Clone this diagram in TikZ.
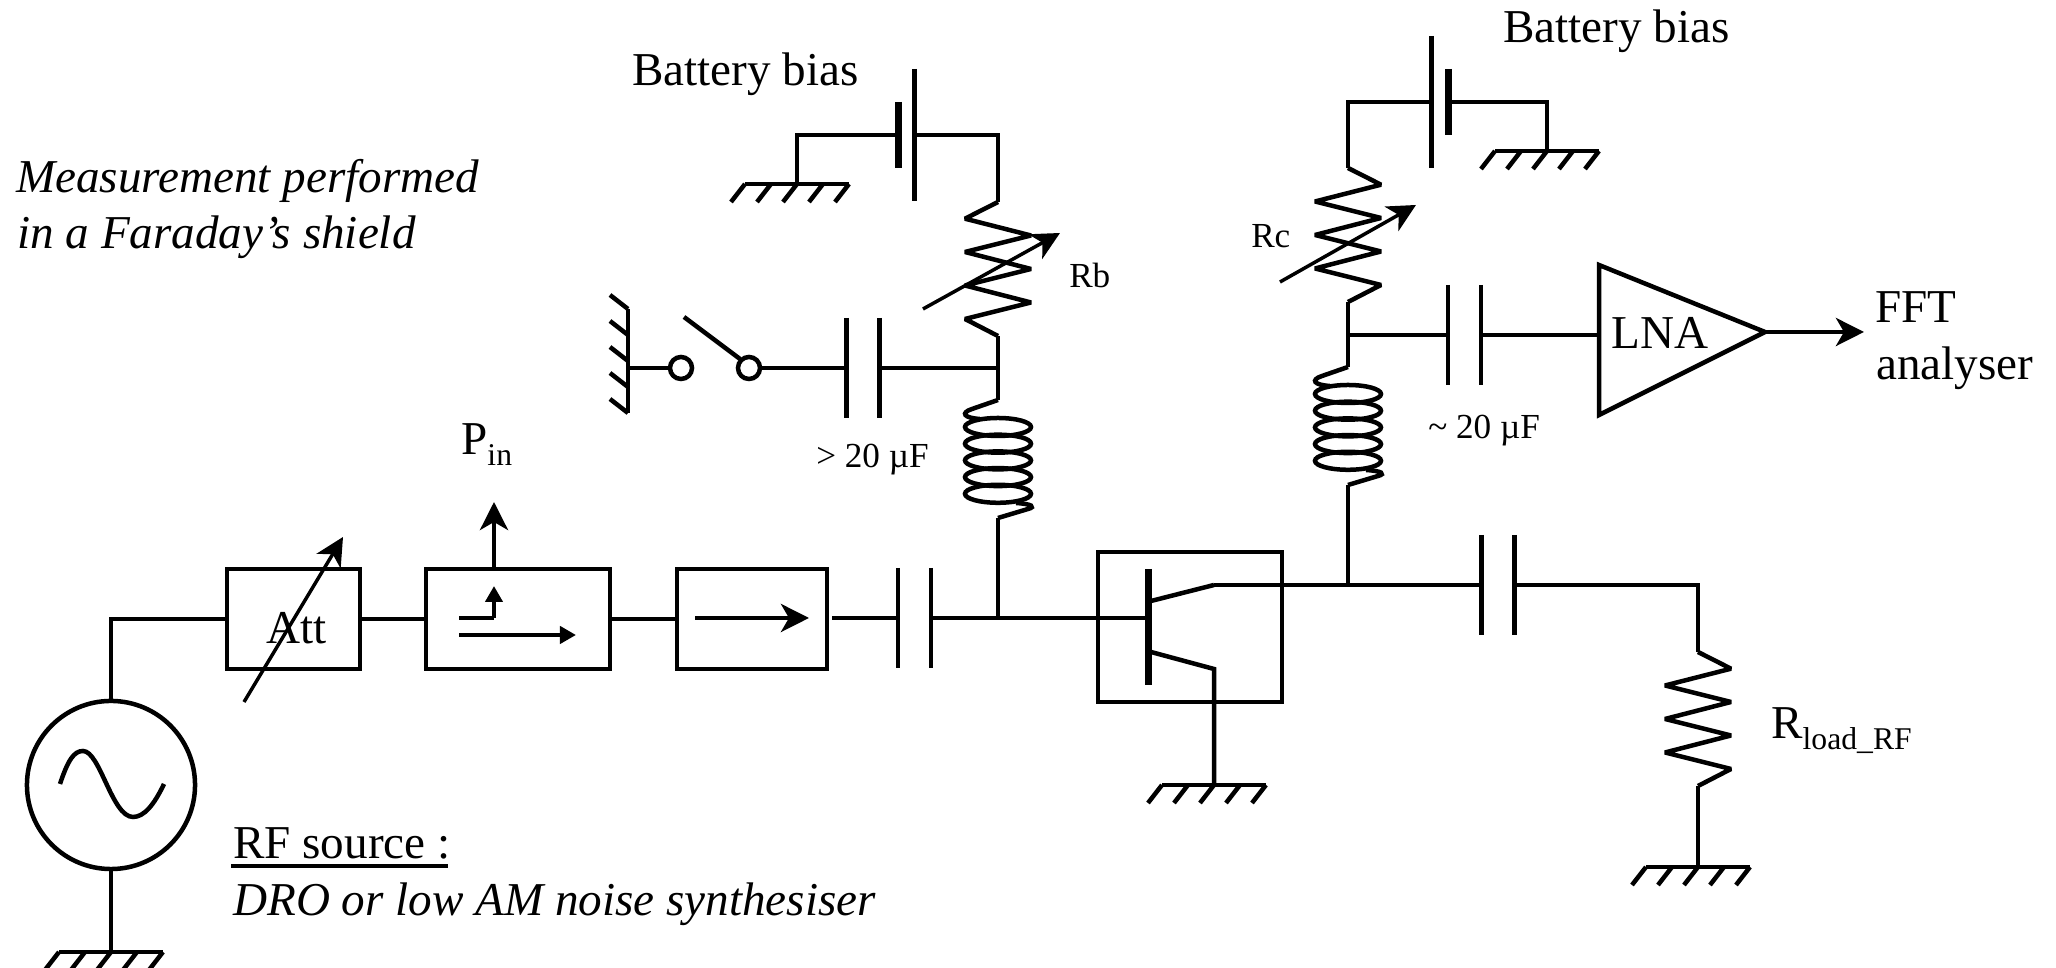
\documentclass[tikz,border=0pt]{standalone}
\usepackage{fontspec}
\setmainfont{Liberation Serif}
\usetikzlibrary{arrows.meta}

\newcommand{\lowtxt}[1]{\raisebox{-0.11cm}{\fontsize{9}{10}\selectfont #1}}

\tikzset{
    bigarrow/.style={-{Stealth[length=0.28cm,width=0.28cm,inset=0.08cm]}},
    tinyarrow/.style={-{Triangle[length=0.16cm,width=0.17cm]}},
    thickbar/.style={line width=0.07cm},
    boxnode/.style={draw,rectangle,inner sep=0,outer sep=0},
    pics/ground/.style={code={
        \coordinate (-pin) at (0,0);
        \draw (-52,0) -- (52,0);
        \foreach \i in {0,...,4}
            \draw (-52+26*\i,0) -- (-66+26*\i,18);
    }},
    pics/resistor/.style={code={
        \coordinate (-top) at (0,0);
        \coordinate (-bot) at (0,134);
        \draw[line join=bevel] (0,0) -- (33,16.7) -- (-33,33.5) -- (33,50) -- (-33,67)
            -- (33,83.5) -- (-33,100.5) -- (33,117) -- (0,134);
    }},
    pics/inductor/.style={code={
        \coordinate (-top) at (0,0);
        \coordinate (-bot) at (0,118);
        \draw (0,0) -- (-26,9) .. controls (-38,13) and (-34,18) .. (-18,19);
        \foreach \i in {0,...,4}
            \draw (0,27+16.7*\i) ellipse [x radius=33, y radius=9];
        \draw (18,103) .. controls (34,104) and (38,107) .. (30,109) -- (0,118);
    }},
    pics/capacitor/.style={code={
        \coordinate (-l) at (-16.5,0);
        \coordinate (-r) at (16.5,0);
        \draw (-16.5,-50) -- (-16.5,50);
        \draw (16.5,-50) -- (16.5,50);
    }},
    pics/battery/.style={code={
        \coordinate (-l) at (-9,0);
        \coordinate (-r) at (8,0);
        \draw[thickbar] (-8.5,-33) -- (-8.5,33);
        \draw (8,-66) -- (8,66);
    }}
}

\begin{document}
\begin{tikzpicture}[x=0.01cm,y=-0.01cm,line width=0.045cm]

    \useasboundingbox (0,0) rectangle (2056,968);

    \begin{scope}[every node/.style={inner sep=0,anchor=base west,font=\fontsize{13.4}{16}\selectfont}]
        \node (shield1) at (14,193) {\itshape Measurement performed};
        \node (shield2) at (15,249) {\itshape in a Faraday's shield};
        \node (bias1) at (630,86) {Battery bias};
        \node (bias2) at (1501,43) {Battery bias};
        \node (pin) at (459,455) {P\lowtxt{in}};
        \node (attlabel) at (264,644) {Att};
        \node (rfsource) at (231,859) {RF source :};
        \node (dro) at (231,916) {\itshape DRO or low AM noise synthesiser};
        \node (lnalabel) at (1609,349) {LNA};
        \node (fft1) at (1873,323) {FFT};
        \node (fft2) at (1874,380) {analyser};
        \node (rload) at (1769,739) {R\lowtxt{load\_RF}};
    \end{scope}

    \begin{scope}[every node/.style={inner sep=0,anchor=base west,font=\fontsize{10}{12}\selectfont}]
        \node (rb) at (1067,288) {Rb};
        \node (rc) at (1249,248) {Rc};
        \node (cbig) at (814,468) {> 20 µF};
        \node (csmall) at (1426,439) {\textasciitilde{} 20 µF};
    \end{scope}

    % blocks
    \node[boxnode,minimum width=1.33cm,minimum height=1.00cm] (att) at (293.5,619) {};
    \node[boxnode,minimum width=1.84cm,minimum height=1.00cm] (coupler) at (518,619) {};
    \node[boxnode,minimum width=1.50cm,minimum height=1.00cm] (iso) at (752,619) {};
    \node[boxnode,minimum width=1.84cm,minimum height=1.50cm] (trans) at (1190,627) {};
    \node[draw,circle,inner sep=0,outer sep=0,minimum size=1.68cm] (src) at (111,785) {};

    % small parts
    \pic (gndsrc) at (111,952) {ground};
    \pic (gndtrans) at (1214,785) {ground};
    \pic (gndload) at (1698,867) {ground};
    \pic (gndb) at (797,184) {ground};
    \pic (gndc) at (1547,151) {ground};
    \pic[rotate=-90] (gndsw) at (628,361) {ground};
    \pic (c1) at (914.5,618) {capacitor};
    \pic (c2) at (863,368) {capacitor};
    \pic (c3) at (1464.5,335) {capacitor};
    \pic (c4) at (1498,585) {capacitor};
    \pic (batb) at (906.5,135) {battery};
    \pic[xscale=-1] (batc) at (1439.5,102) {battery};
    \pic[xscale=-1] (resb) at (998,202) {resistor};
    \pic (resc) at (1348,168) {resistor};
    \pic (resload) at (1698,652) {resistor};
    \pic (indb) at (998,400) {inductor};
    \pic (indc) at (1348,367) {inductor};

    \coordinate (nodeb) at (998,618);
    \coordinate (basepin) at (1145,618);
    \coordinate (colA) at (1151,601);
    \coordinate (colB) at (1214,585);
    \coordinate (emA) at (1151,652);
    \coordinate (emB) at (1214,669);
    \coordinate (nodec) at (1348,585);
    \coordinate (lnaA) at (1599,265);
    \coordinate (lnaB) at (1599,415);
    \coordinate (lnaC) at (1765,332);
    \coordinate (fftend) at (1864,332);
    \coordinate (isoout) at (832,618);

    % main line
    \draw (src.north) |- (att.west);
    \draw (src.south) -- (gndsrc-pin);
    \draw (att.east) -- (coupler.west);
    \draw (coupler.east) -- (iso.west);
    \draw (isoout) -- (c1-l);
    \draw (c1-r) -- (basepin);
    \draw (nodeb) -- (indb-bot);
    \draw (indb-top) -- (resb-bot);
    \draw (colB) -- (c4-l);
    \draw (nodec) -- (indc-bot);
    \draw (indc-top) -- (resc-bot);
    \draw (c4-r) -| (resload-top);
    \draw (resload-bot) -- (gndload-pin);

    % transistor
    \coordinate (barA) at (1148,569);
    \coordinate (barB) at (1148,685);
    \draw[thickbar] (barA) -- (barB);
    \draw (colA) -- (colB);
    \draw (emA) -- (emB) -- (gndtrans-pin);

    % biasing
    \draw (batb-r) -| (resb-top);
    \draw (batb-l) -| (gndb-pin);
    \draw (batc-r) -| (resc-top);
    \draw (batc-l) -| (gndc-pin);

    % switch
    \node[draw,circle,inner sep=0,outer sep=0,minimum size=0.22cm] (swA) at (681,368) {};
    \node[draw,circle,inner sep=0,outer sep=0,minimum size=0.22cm] (swB) at (749,368) {};
    \coordinate (gndswpin) at (628,368);
    \coordinate (armA) at (684,317);
    \coordinate (armB) at (740,359);
    \coordinate (juncb) at (998,368);
    \draw (gndswpin) -- (swA.west);
    \draw (armA) -- (armB);
    \draw (swB.east) -- (c2-l);
    \draw (c2-r) -- (juncb);

    % lna
    \coordinate (juncc) at (1348,335);
    \coordinate (lnain) at (1599,335);
    \draw (juncc) -- (c3-l);
    \draw (c3-r) -- (lnain);
    \draw (lnaA) -- (lnaB) -- (lnaC) -- cycle;
    \draw[bigarrow] (lnaC) -- (fftend);

    % variable arrows
    \coordinate (attvA) at (244,702);
    \coordinate (attvB) at (343,537);
    \coordinate (rbvA) at (923,309);
    \coordinate (rbvB) at (1060,233);
    \coordinate (rcvA) at (1280,282);
    \coordinate (rcvB) at (1416,205);
    \draw[bigarrow,line width=0.035cm] (attvA) -- (attvB);
    \draw[bigarrow,line width=0.035cm] (rbvA) -- (rbvB);
    \draw[bigarrow,line width=0.035cm] (rcvA) -- (rcvB);

    % block arrows
    \coordinate (cpA) at (459,618);
    \coordinate (cpB) at (494,618);
    \coordinate (cpC) at (494,586);
    \coordinate (cpD) at (459,635);
    \coordinate (cpE) at (576,635);
    \coordinate (pinend) at (494,502);
    \coordinate (isoA) at (695,618);
    \coordinate (isoB) at (809,618);
    \draw (cpA) -- (cpB);
    \draw[tinyarrow] (cpB) -- (cpC);
    \draw[tinyarrow] (cpD) -- (cpE);
    \draw[bigarrow] (coupler.north-|cpB) -- (pinend);
    \draw[bigarrow] (isoA) -- (isoB);

    % sine
    \coordinate (sineA) at (60,784);
    \coordinate (sineB) at (164,784);
    \draw (sineA) .. controls (68,760) and (74,751) .. (83,751)
        .. controls (100,751) and (112,817) .. (133,817)
        .. controls (144,817) and (154,805) .. (sineB);

    % underline
    \coordinate (ulA) at (231,866);
    \coordinate (ulB) at (448,866);
    \draw (ulA) -- (ulB);

\end{tikzpicture}
\end{document}
